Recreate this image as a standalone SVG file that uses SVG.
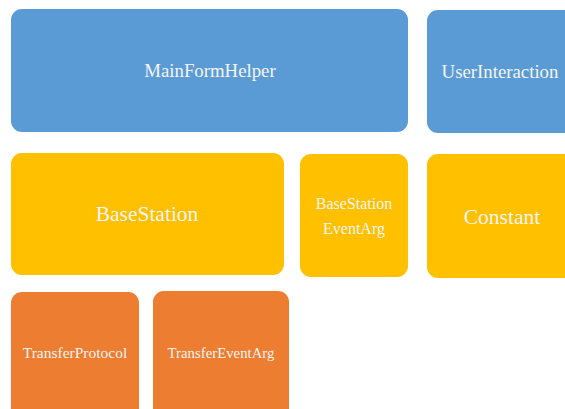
<svg xmlns="http://www.w3.org/2000/svg" width="565" height="409" viewBox="0 0 565 409">
<style>
.blue{fill:#5B9BD5}
.yel{fill:#FFC000}
.org{fill:#ED7D31}
.t{fill:#F4F4F4;text-anchor:middle}
</style>
<rect width="565" height="409" fill="#fff"/>
<g font-family="Liberation Serif, Times New Roman, serif">
<g id="MainFormHelper"><rect class="blue" x="11" y="9" width="397" height="123" rx="11"/><text class="t" x="210" y="77" font-size="18.8">MainFormHelper</text></g>
<g id="UserInteraction"><rect class="blue" x="427" y="10" width="150" height="123" rx="11"/><text class="t" x="500" y="78" font-size="18.8">UserInteraction</text></g>
<g id="BaseStation"><rect class="yel" x="11" y="153" width="273" height="122" rx="11"/><text class="t" x="147" y="221" font-size="21.5">BaseStation</text></g>
<g id="BaseStationEventArg"><rect class="yel" x="300" y="154" width="108" height="123" rx="11"/><text class="t" x="354" y="209" font-size="16">BaseStation</text><text class="t" x="354" y="234" font-size="16">EventArg</text></g>
<g id="Constant"><rect class="yel" x="427" y="154" width="150" height="124" rx="11"/><text class="t" x="502" y="224" font-size="21.5">Constant</text></g>
<g id="TransferProtocol"><rect class="org" x="11" y="292" width="128" height="130" rx="11"/><text class="t" x="75" y="358" font-size="15.5">TransferProtocol</text></g>
<g id="TransferEventArg"><rect class="org" x="153" y="291" width="136" height="130" rx="11"/><text class="t" x="221" y="358" font-size="14.8">TransferEventArg</text></g>
</g>
<g id="connectors"/>
</svg>
